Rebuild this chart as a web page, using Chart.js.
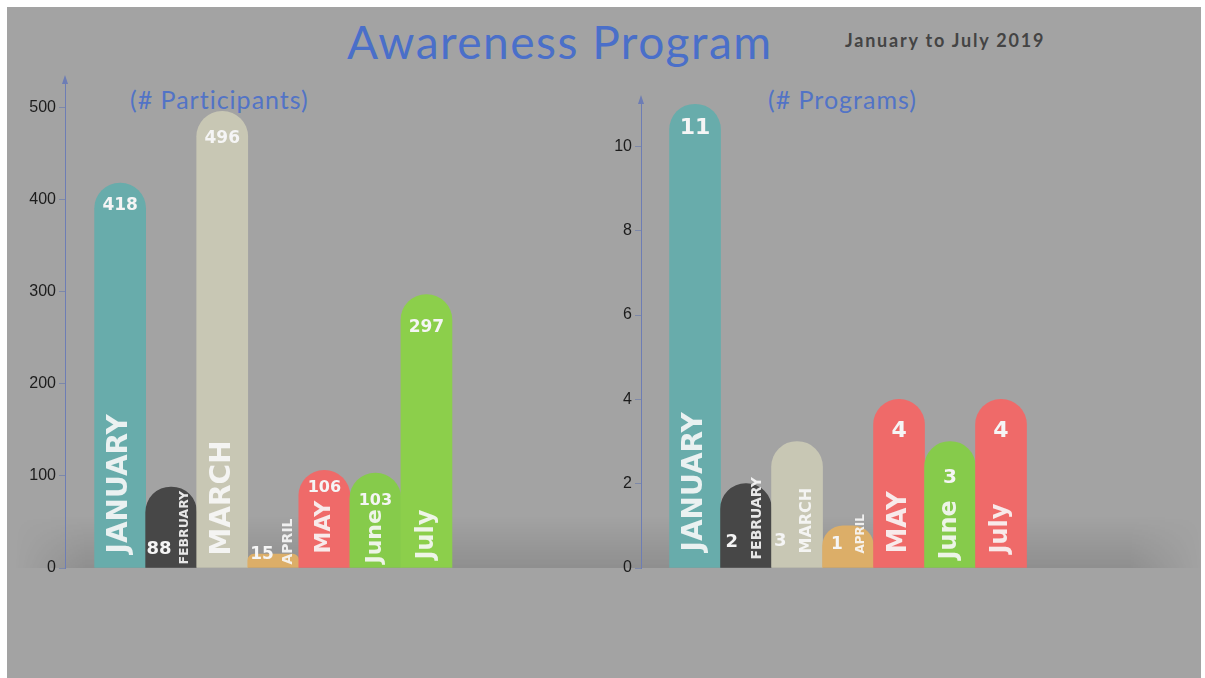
<!DOCTYPE html>
<html>
<head>
<meta charset="utf-8">
<title>Awareness Program</title>
<script src="https://cdn.jsdelivr.net/npm/chart.js@4.4.1/dist/chart.umd.min.js"></script>
<style>
    body { margin: 0; width: 1205px; height: 678px; background: #fff; position: relative; overflow: hidden; font-family: 'Lato', sans-serif; }
    #fons { position: absolute; left: 7px; top: 7px; width: 1194px; height: 671px; background: #a3a3a3; }
    #ombra { position: absolute; left: 15px; top: 516px; width: 1186px; height: 52px;
        background: linear-gradient(to bottom, rgba(0,0,0,0), rgba(0,0,0,0.12));
        -webkit-mask-image: linear-gradient(to right, transparent, #000 6%, #000 94%, transparent); }
    .text { position: absolute; white-space: nowrap; }
    #titol { left: 347px; top: 14px; font-size: 46px; color: #4a6fc9; letter-spacing: 1.5px; }
    #periode { left: 845px; top: 29px; font-size: 18px; font-weight: bold; color: #444; letter-spacing: 1.8px; }
    #sub1 { left: 130px; top: 84px; font-size: 25px; color: #5273c6; letter-spacing: 1px; }
    #sub2 { left: 768px; top: 84px; font-size: 25px; color: #5273c6; letter-spacing: 1px; }
    canvas { position: absolute; top: 0; }
</style>
</head>
<body>
<div id="fons"></div>
<div id="ombra"></div>
<div class="text" id="titol">Awareness Program</div>
<div class="text" id="periode">January to July 2019</div>
<div class="text" id="sub1">(# Participants)</div>
<div class="text" id="sub2">(# Programs)</div>
<canvas id="grafica1" width="600" height="678" style="left:0px"></canvas>
<canvas id="grafica2" width="605" height="678" style="left:600px"></canvas>
<script>
// dades
var mesos = ['JANUARY', 'FEBRUARY', 'MARCH', 'APRIL', 'MAY', 'June', 'July'];
var participants = [418, 88, 496, 15, 106, 103, 297];
var programes = [11, 2, 3, 1, 4, 3, 4];
var ticksParticipants = [0, 100, 200, 300, 400, 500];
var ticksProgrames = [0, 2, 4, 6, 8, 10];

var colorsParticipants = ['#68acab', '#474747', '#c8c7b4', '#dcae68', '#ef6a69', '#86cb4b', '#8ccf4b'];
var colorsProgrames = ['#68acab', '#474747', '#c8c7b4', '#dcae68', '#ef6a69', '#86cb4b', '#ef6a69'];

// estil de les etiquetes de cada barra
var estilsParticipants = [
    {nom: 28, dxNom: 0, baixNom: 14, val: 17, dxVal: 0, dalt: 22},
    {nom: 12.5, dxNom: 0.27, baixNom: 3, val: 18, dxVal: -0.24, baix: 18},
    {nom: 28, dxNom: 0, baixNom: 12, val: 17, dxVal: 0, dalt: 27},
    {nom: 14, dxNom: 0.3, baixNom: 3, val: 17, dxVal: -0.22, baix: 13},
    {nom: 22, dxNom: 0, baixNom: 14, val: 16, dxVal: 0, dalt: 17},
    {nom: 22, dxNom: 0, baixNom: 4, val: 16, dxVal: 0, dalt: 28},
    {nom: 24, dxNom: 0, baixNom: 8, val: 17, dxVal: 0, dalt: 33}
];
var estilsProgrames = [
    {nom: 28, dxNom: 0, baixNom: 16, val: 22, dxVal: 0, dalt: 24},
    {nom: 14, dxNom: 0.22, baixNom: 8, val: 18, dxVal: -0.28, baix: 25},
    {nom: 16, dxNom: 0.2, baixNom: 14, val: 18, dxVal: -0.33, baix: 26},
    {nom: 12, dxNom: 0.26, baixNom: 14, val: 17, dxVal: -0.22, baix: 23},
    {nom: 26, dxNom: 0, baixNom: 14, val: 22, dxVal: 0, dalt: 32},
    {nom: 24, dxNom: 0, baixNom: 8, val: 20, dxVal: 0, dalt: 36},
    {nom: 24, dxNom: 0, baixNom: 14, val: 22, dxVal: 0, dalt: 32}
];

/* Plugin per escriure el mes i el valor dins de cada barra */
function pluginEtiquetes(estils, valors) {
    return {
        id: 'etiquetes',
        afterDatasetsDraw: function(chart) {
            var c = chart.ctx;
            var barres = chart.getDatasetMeta(0).data;
            barres.forEach(function(b, i) {
                var e = estils[i];
                var w = b.width;
                // nom del mes, girat
                c.save();
                c.fillStyle = 'rgba(248,248,248,0.9)';
                c.font = 'bold ' + e.nom + 'px "DejaVu Sans"';
                c.translate(b.x + e.dxNom * w, b.base - e.baixNom);
                c.rotate(-Math.PI / 2);
                c.textAlign = 'left';
                c.textBaseline = 'middle';
                c.fillText(mesos[i], 0, 0);
                c.restore();
                // valor
                c.save();
                c.fillStyle = '#f5f5f5';
                c.font = 'bold ' + e.val + 'px "DejaVu Sans"';
                c.textAlign = 'center';
                c.textBaseline = 'middle';
                var y = (e.dalt !== undefined) ? b.y + e.dalt : b.base - e.baix;
                c.fillText(valors[i], b.x + e.dxVal * w, y);
                c.restore();
            });
        }
    };
}

/* Fletxa a dalt de l'eix Y */
var pluginFletxa = {
    id: 'fletxa',
    afterDraw: function(chart) {
        var c = chart.ctx;
        var x = chart.chartArea.left;
        var y = chart.chartArea.top;
        c.save();
        c.fillStyle = '#6d7db5';
        c.beginPath();
        c.moveTo(x, y - 5);
        c.lineTo(x - 3, y + 4);
        c.lineTo(x + 3, y + 4);
        c.closePath();
        c.fill();
        c.restore();
    }
};

function creaGrafica(id, valors, colors, ticksY, maxY, minX, maxX, ampleEix, paddingTop, estils) {
    const ctx = document.getElementById(id);
    return new Chart(ctx, {
        type: 'bar',
        data: {
            datasets: [{
                data: valors.map(function(v, i) { return {x: i, y: v}; }),
                backgroundColor: colors,
                borderRadius: 26,
                borderSkipped: 'start',
                barPercentage: 1,
                categoryPercentage: 1
            }]
        },
        options: {
            responsive: false,
            animation: false,
            layout: { padding: { top: paddingTop, bottom: 110, left: 0, right: 0 } },
            plugins: {
                legend: { display: false },
                tooltip: { enabled: false }
            },
            scales: {
                x: {
                    type: 'linear',
                    display: false,
                    offset: false,
                    grid: { offset: false },
                    min: minX,
                    max: maxX,
                    afterBuildTicks: function(s) {
                        s.ticks = mesos.map(function(m, i) { return {value: i}; });
                    }
                },
                y: {
                    min: 0,
                    max: maxY,
                    afterBuildTicks: function(s) {
                        s.ticks = ticksY.map(function(v) { return {value: v}; });
                    },
                    afterFit: function(s) { s.width = ampleEix; },
                    grid: {
                        drawOnChartArea: false,
                        drawTicks: true,
                        tickLength: 6,
                        color: '#7d88a8'
                    },
                    border: { display: true, color: '#6d7db5', width: 1 },
                    ticks: {
                        padding: 3,
                        color: '#1c1c1c',
                        font: { family: '"Liberation Sans"', size: 16 }
                    }
                }
            }
        },
        plugins: [pluginEtiquetes(estils, valors), pluginFletxa]
    });
}

window.onload = function() {
    creaGrafica('grafica1', participants, colorsParticipants, ticksParticipants, 530, -1.08, 9.4, 65, 80, estilsParticipants);
    creaGrafica('grafica2', programes, colorsProgrames, ticksProgrames, 11.1, -1.06, 10, 41, 100, estilsProgrames);
};
</script>
</body>
</html>
